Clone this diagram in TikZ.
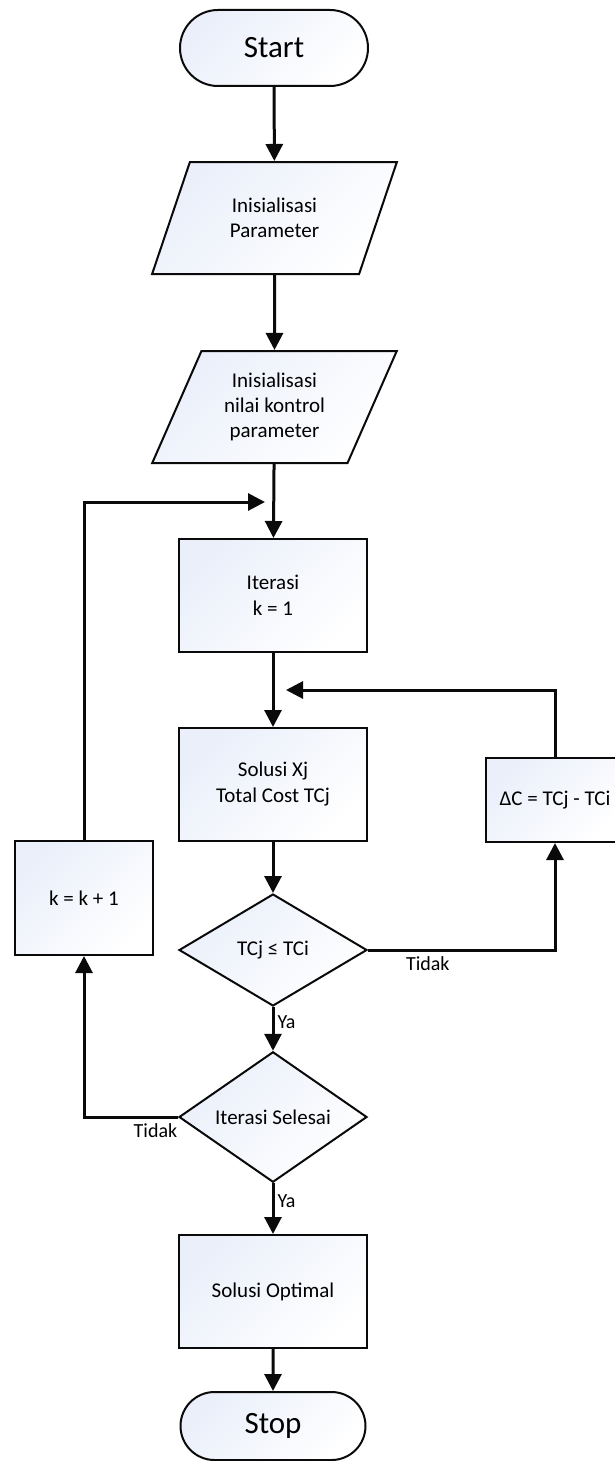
\documentclass[tikz,border=0pt]{standalone}
\usepackage{fontspec}
\setmainfont{Carlito}
\usetikzlibrary{arrows.meta,shapes.geometric,shapes.misc}
\definecolor{cTint}{RGB}{234,239,250}
\definecolor{cLine}{RGB}{10,10,10}
\tikzset{
	shadefill/.style={top color=cTint, bottom color=white, shading angle=45},
	term/.style={rounded rectangle, draw=cLine, line width=2pt, shadefill,
		minimum width=188pt, minimum height=76pt, inner sep=0pt,
		font=\fontsize{31}{36}\selectfont},
	iobox/.style={trapezium, trapezium left angle=63.4, trapezium right angle=116.6,
		trapezium stretches=true, draw=cLine, line width=2pt, shadefill,
		minimum width=245pt, minimum height=112pt, inner sep=0pt, align=center,
		font=\fontsize{21}{25}\selectfont},
	pbox/.style={rectangle, draw=cLine, line width=2pt, shadefill,
		minimum width=188pt, minimum height=113pt, inner sep=0pt, align=center,
		font=\fontsize{21}{26}\selectfont},
	dbox/.style={diamond, draw=cLine, line width=2pt, shadefill,
		minimum width=188pt, minimum height=112pt, inner sep=0pt, align=center,
		font=\fontsize{21}{25}\selectfont},
	arr/.style={-{Triangle[length=17pt,width=17pt]}, line width=3pt, draw=cLine},
	lbl/.style={font=\fontsize{20}{25}\selectfont, inner sep=3pt},
}
\begin{document}
\begin{tikzpicture}[x=1pt, y=-1pt]
	\useasboundingbox (0,0) rectangle (614,1461);
	% main column
	\node[term] (start) at (274,48) {Start};
	\node[iobox] (par1) at (274.5,218) {Inisialisasi\\Parameter};
	\node[iobox] (par2) at (274.5,407) {Inisialisasi\\nilai kontrol\\parameter};
	\node[pbox] (iter) at (273,595.5) {Iterasi\\k = 1};
	\node[pbox] (sol) at (273,784.5) {Solusi Xj\\Total Cost TCj};
	\node[dbox] (cek) at (273,950) {TCj ≤ TCi};
	\node[dbox] (done) at (273,1117) {Iterasi Selesai};
	\node[pbox] (opt) at (273,1291.5) {Solusi Optimal};
	\node[term, minimum width=185pt, minimum height=68pt] (stop) at (273,1426) {Stop};
	% side boxes
	\node[pbox, minimum width=138pt, minimum height=84pt] (delta) at (555,800) {ΔC = TCj - TCi};
	\node[pbox, minimum width=138pt, minimum height=114pt] (kplus) at (84,898) {k = k + 1};
	\coordinate (retA) at (286,690);
	\coordinate (retB) at (265,502);
	\draw[arr] (start) -- (par1);
	\draw[arr] (par1) -- (par2);
	\draw[arr] (par2) -- (iter);
	\draw[arr] (iter) -- (sol);
	\draw[arr] (sol) -- (cek);
	\draw[arr] (cek) -- node[lbl, right, pos=0.35] {Ya} (done);
	\draw[arr] (done) -- node[lbl, right, pos=0.35] {Ya} (opt);
	\draw[arr] (opt) -- (stop);
	% loops
	\draw[arr] (cek.east) -| node[lbl, below, pos=0.16, yshift=-2pt] {Tidak} (delta.south);
	\draw[arr] (delta.north) |- (retA);
	\draw[arr] (done.west) -| node[lbl, below, pos=0.12, yshift=-2pt] {Tidak} (kplus.south);
	\draw[arr] (kplus.north) |- (retB);
\end{tikzpicture}
\end{document}
